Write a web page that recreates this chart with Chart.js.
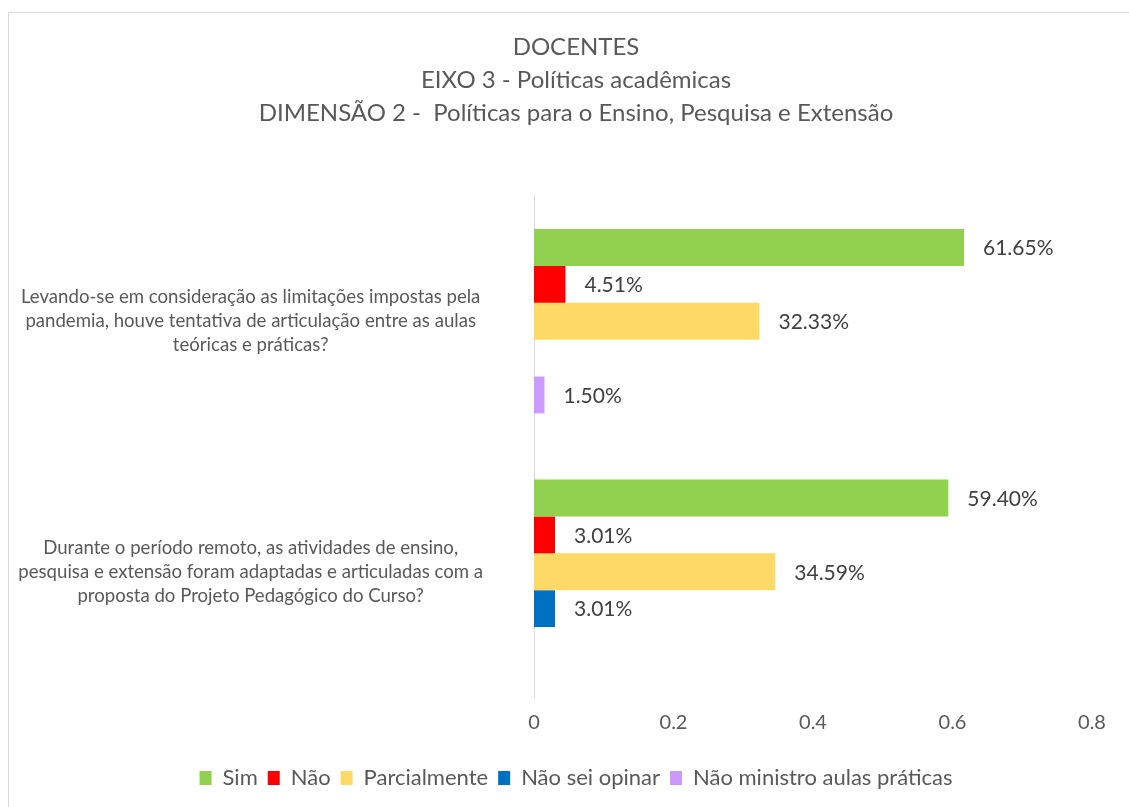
<!DOCTYPE html>
<html>
<head>
<meta charset="utf-8">
<script src="https://cdn.jsdelivr.net/npm/chart.js@4.4.1/dist/chart.umd.min.js"></script>
<style>
  body { margin: 0; background: #fff; }
  #wrap { position: relative; width: 1129px; height: 807px; overflow: hidden; }
  #frame { position: absolute; left: 8px; top: 12px; width: 1130px; height: 800px; border: 1px solid #d9d9d9; box-sizing: border-box; }
  #myChart { position: absolute; left: 0; top: 0; }
</style>
</head>
<body>
<div id="wrap">
  <div id="frame"></div>
  <canvas id="myChart" width="1129" height="807"></canvas>
</div>
<script>
const questions = [
  ['Levando-se em consideração as limitações impostas pela', 'pandemia, houve tentativa de articulação entre as aulas', 'teóricas e práticas?'],
  ['Durante o período remoto, as atividades de ensino,', 'pesquisa e extensão foram adaptadas e articuladas com a', 'proposta do Projeto Pedagógico do Curso?']
];
const seriesNames = ['Sim', 'Não', 'Parcialmente', 'Não sei opinar', 'Não ministro aulas práticas'];
const sim = [0.6165, 0.5940];
const nao = [0.0451, 0.0301];
const parcialmente = [0.3233, 0.3459];
const naoSeiOpinar = [null, 0.0301];
const naoMinistro = [0.0150, null];
const xTicks = [0, 0.2, 0.4, 0.6, 0.8];

const colors = ['#92D050', '#FF0000', '#FFD966', '#0070C0', '#CC99FF'];
const font = 'Lato, "Open Sans", sans-serif';
const grey = '#595959';

// percent labels at the end of each bar
const valueLabels = {
  id: 'valueLabels',
  afterLayout(chart) {
    // let the long question labels run past the left padding without clipping
    chart.scales.y.left = 0;
  },
  afterDatasetsDraw(chart) {
    const c = chart.ctx;
    c.save();
    c.font = '21px ' + font;
    c.fillStyle = '#404040';
    c.textAlign = 'left';
    c.textBaseline = 'middle';
    chart.data.datasets.forEach((ds, i) => {
      chart.getDatasetMeta(i).data.forEach((bar, j) => {
        const v = ds.data[j];
        if (v == null) return;
        c.fillText((v * 100).toFixed(2) + '%', bar.x + 19, bar.y + 1);
      });
    });
    c.restore();
  }
};

const ctx = document.getElementById('myChart').getContext('2d');
const myChart = new Chart(ctx, {
  type: 'bar',
  data: {
    labels: questions,
    datasets: [sim, nao, parcialmente, naoSeiOpinar, naoMinistro].map((d, i) => ({
      label: seriesNames[i],
      data: d,
      backgroundColor: colors[i],
      categoryPercentage: 0.736,
      barPercentage: 1
    }))
  },
  options: {
    indexAxis: 'y',
    responsive: false,
    animation: false,
    layout: { padding: { left: 60, right: 37, top: 0, bottom: 8 } },
    scales: {
      x: {
        min: 0,
        max: 0.8,
        afterBuildTicks: (scale) => { scale.ticks = xTicks.map(v => ({ value: v })); },
        afterFit: (scale) => { scale.height = 60; },
        grid: { display: false, drawTicks: false },
        border: { display: false },
        ticks: { color: grey, font: { family: font, size: 20 }, padding: 14 }
      },
      y: {
        afterFit: (scale) => { scale.width = 474; },
        grid: { display: false, drawTicks: false },
        border: { display: true, color: '#d9d9d9', width: 1 },
        ticks: { color: grey, font: { family: font, size: 18.6, lineHeight: 1.3 }, crossAlign: 'center', padding: 51 }
      }
    },
    plugins: {
      title: {
        display: true,
        text: ['DOCENTES', 'EIXO 3 - Políticas acadêmicas', 'DIMENSÃO 2 -  Políticas para o Ensino, Pesquisa e Extensão'],
        color: grey,
        font: { family: font, size: 24, weight: 'normal', lineHeight: 1.375 },
        padding: { top: 31, bottom: 66 }
      },
      legend: {
        position: 'bottom',
        labels: { color: grey, font: { family: font, size: 22 }, boxWidth: 12, boxHeight: 14, padding: 10 }
      },
      tooltip: { enabled: false }
    }
  },
  plugins: [valueLabels]
});
</script>
</body>
</html>
